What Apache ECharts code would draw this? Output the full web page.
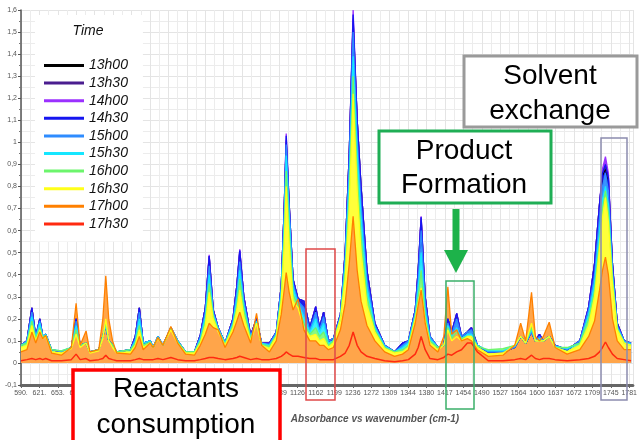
<!DOCTYPE html>
<html>
<head>
<meta charset="utf-8">
<script src="https://cdn.jsdelivr.net/npm/echarts@6.0.0/dist/echarts.min.js"></script>
<style>
html, body { margin: 0; padding: 0; background: #fff; }
#chart { width: 640px; height: 440px; }
</style>
</head>
<body>
<div id="chart"></div>
<script>
// x positions are measured in tick-label steps (0 = first label "590.")
const wavePos = [
  0, 0.32, 0.59, 0.80, 1.02, 1.18, 1.34, 1.66, 2.19, 2.73,
  2.99, 3.21, 3.53, 3.74, 4.22, 4.44, 4.60, 4.76, 4.97, 5.19,
  5.94, 6.20, 6.42, 6.63, 7.01, 7.17, 7.43, 7.70, 8.13, 8.50,
  8.93, 9.41, 9.73, 10.00, 10.21, 10.43, 10.70, 11.07, 11.50, 11.71,
  11.87, 12.09, 12.46, 12.78, 13.05, 13.48, 13.85, 14.12, 14.28, 14.39,
  14.55, 14.76, 15.03, 15.35, 15.67, 15.99, 16.20, 16.42, 16.68, 16.95,
  17.33, 17.59, 17.81, 18.02, 18.24, 18.45, 18.77, 19.20, 19.73, 20.27,
  20.70, 21.02, 21.39, 21.55, 21.71, 21.93, 22.19, 22.62, 22.94, 23.16,
  23.37, 23.64, 23.90, 24.22, 24.44, 24.76, 25.35, 26.15, 26.79, 27.11,
  27.38, 27.70, 27.91, 28.13, 28.34, 28.66, 28.98, 29.63, 30.32, 30.80,
  31.12, 31.39, 31.55, 31.71, 31.87, 32.09, 32.35, 32.73, 33.10
]

const tickLabels = ['590.', '621.', '653.', '688.', '724.', '761.', '797.', '834.', '870.', '907.',
  '943.', '980.', '1016', '1053', '1089', '1126', '1162', '1199', '1236', '1272', '1309', '1344',
  '1380', '1417', '1454', '1490', '1527', '1564', '1600', '1637', '1672', '1709', '1745', '1781']

const times = ['13h00', '13h30', '14h00', '14h30', '15h00', '15h30', '16h00', '16h30', '17h00', '17h30']

const t1300 = [
  .08, .10, .25, .12, .20, .12, .13, .06, .05, .07,
  .20, .08, .09, .05, .06, .12, .17, .10, .08, .05,
  .06, .12, .25, .09, .10, .07, .12, .08, .16, .10,
  .05, .05, .127, .25, .48, .24, .16, .09, .20, .35,
  .50, .30, .125, .20, .09, .09, .14, .35, .70, 1.00,
  .72, .38, .29, .28, .16, .25, .16, .23, .10, .11,
  .22, .50, .95, 1.55, 1.10, .80, .42, .18, .08, .05,
  .09, .10, .24, .42, .65, .30, .12, .07, .08, .20,
  .14, .22, .12, .14, .16, .08, .05, .05, .07, .12,
  .09, .14, .10, .13, .10, .12, .08, .06, .10, .25,
  .45, .72, .85, .88, .83, .45, .18, .10, .09
]
const t1330 = [
  .08, .10, .25, .12, .20, .12, .13, .06, .05, .07,
  .20, .08, .09, .05, .06, .12, .17, .10, .08, .05,
  .06, .12, .25, .09, .10, .07, .12, .08, .16, .10,
  .05, .05, .127, .25, .485, .24, .16, .09, .20, .35,
  .51, .30, .125, .20, .09, .09, .14, .35, .70, 1.01,
  .72, .38, .29, .28, .16, .255, .16, .23, .10, .11,
  .22, .50, .95, 1.56, 1.10, .80, .42, .18, .08, .05,
  .09, .10, .24, .42, .66, .30, .12, .07, .08, .20,
  .14, .225, .12, .14, .16, .08, .05, .05, .07, .12,
  .09, .14, .10, .13, .10, .12, .08, .06, .10, .255,
  .45, .72, .86, .89, .84, .45, .18, .10, .09
]
const t1400 = [
  .08, .10, .25, .12, .20, .12, .13, .06, .05, .07,
  .20, .08, .09, .05, .06, .12, .17, .10, .08, .05,
  .06, .12, .25, .09, .10, .07, .12, .08, .16, .10,
  .05, .05, .127, .25, .49, .24, .16, .09, .20, .35,
  .515, .30, .125, .20, .09, .09, .14, .35, .70, 1.04,
  .72, .38, .29, .28, .16, .255, .16, .23, .10, .11,
  .22, .50, .95, 1.60, 1.10, .80, .42, .18, .08, .05,
  .09, .10, .24, .42, .665, .30, .12, .07, .08, .20,
  .14, .225, .12, .14, .16, .08, .05, .05, .07, .12,
  .09, .14, .10, .13, .10, .12, .08, .06, .10, .255,
  .45, .72, .88, .935, .86, .45, .18, .10, .09
]
const t1430 = [
  .08, .10, .25, .12, .20, .12, .13, .06, .05, .07,
  .20, .08, .09, .05, .06, .12, .17, .10, .08, .05,
  .06, .12, .25, .09, .10, .07, .12, .08, .16, .10,
  .05, .05, .127, .25, .485, .24, .16, .09, .20, .35,
  .51, .30, .125, .20, .09, .09, .14, .35, .70, 1.03,
  .72, .38, .29, .28, .16, .255, .16, .23, .10, .11,
  .22, .50, .95, 1.58, 1.10, .80, .42, .18, .08, .05,
  .09, .10, .24, .42, .66, .30, .12, .07, .08, .20,
  .14, .225, .12, .14, .16, .08, .05, .05, .07, .12,
  .09, .14, .10, .13, .10, .12, .08, .06, .10, .255,
  .45, .72, .86, .90, .84, .45, .18, .10, .09
]
const t1500 = [
  .08, .10, .23, .12, .19, .12, .13, .06, .05, .07,
  .19, .08, .09, .05, .06, .12, .17, .10, .08, .05,
  .06, .11, .23, .09, .10, .07, .12, .08, .16, .10,
  .05, .05, .12, .23, .44, .23, .16, .09, .19, .32,
  .46, .28, .12, .19, .09, .085, .14, .34, .67, .99,
  .70, .36, .28, .25, .15, .23, .15, .21, .10, .11,
  .21, .48, .90, 1.50, 1.02, .72, .38, .17, .08, .05,
  .08, .10, .23, .38, .60, .27, .12, .07, .08, .18,
  .13, .20, .12, .14, .15, .08, .05, .05, .07, .12,
  .09, .14, .10, .12, .10, .12, .08, .06, .10, .24,
  .40, .66, .80, .86, .78, .42, .17, .10, .09
]
const t1530 = [
  .08, .095, .21, .115, .18, .12, .13, .06, .055, .07,
  .17, .08, .09, .05, .06, .12, .17, .10, .08, .05,
  .06, .10, .20, .09, .10, .07, .12, .08, .16, .10,
  .05, .05, .11, .21, .40, .22, .155, .09, .18, .29,
  .42, .26, .115, .19, .09, .08, .13, .32, .63, .94,
  .66, .34, .27, .21, .14, .20, .14, .18, .09, .10,
  .21, .45, .84, 1.39, .95, .66, .34, .16, .075, .05,
  .07, .09, .22, .34, .50, .24, .11, .07, .08, .17,
  .12, .16, .11, .13, .13, .08, .055, .055, .075, .12,
  .09, .15, .10, .11, .10, .12, .075, .065, .09, .22,
  .36, .60, .74, .80, .72, .40, .16, .095, .085
]
const t1600 = [
  .08, .09, .19, .11, .16, .115, .125, .06, .055, .07,
  .15, .08, .09, .05, .06, .12, .18, .10, .08, .05,
  .06, .09, .17, .08, .095, .07, .115, .08, .16, .095,
  .05, .05, .10, .19, .36, .21, .15, .085, .17, .26,
  .38, .24, .11, .18, .085, .075, .125, .30, .58, .87,
  .60, .31, .26, .18, .13, .16, .12, .14, .08, .10,
  .20, .42, .76, 1.30, .86, .58, .30, .15, .07, .05,
  .06, .08, .21, .30, .42, .21, .10, .07, .08, .16,
  .11, .14, .11, .12, .12, .075, .06, .065, .08, .12,
  .09, .16, .10, .10, .10, .12, .07, .07, .09, .20,
  .33, .55, .70, .78, .68, .38, .155, .09, .08
]
const t1630 = [
  .07, .08, .17, .10, .15, .11, .12, .05, .045, .065,
  .13, .07, .09, .045, .055, .11, .20, .10, .07, .045,
  .05, .08, .15, .07, .09, .07, .11, .08, .15, .09,
  .045, .045, .09, .17, .32, .20, .14, .08, .16, .24,
  .33, .21, .10, .18, .08, .065, .12, .28, .53, .80,
  .54, .28, .25, .16, .12, .13, .10, .11, .07, .09,
  .20, .38, .70, 1.22, .78, .50, .26, .14, .065, .045,
  .05, .07, .20, .27, .34, .19, .09, .06, .08, .15,
  .10, .12, .10, .12, .12, .07, .04, .045, .08, .12,
  .09, .18, .10, .10, .10, .12, .07, .05, .08, .17,
  .30, .52, .66, .75, .64, .36, .15, .09, .08
]
const t1700 = [
  .05, .06, .14, .09, .14, .11, .125, .045, .035, .07,
  .27, .08, .145, .05, .06, .20, .395, .20, .10, .045,
  .04, .07, .12, .06, .09, .07, .115, .08, .165, .09,
  .04, .035, .08, .13, .18, .16, .15, .07, .14, .19,
  .23, .17, .09, .225, .08, .05, .10, .22, .33, .41,
  .32, .24, .29, .15, .10, .10, .08, .08, .06, .07,
  .15, .27, .45, .665, .42, .28, .17, .10, .05, .03,
  .04, .06, .18, .26, .33, .18, .08, .05, .12, .345,
  .13, .15, .10, .11, .10, .06, .03, .035, .08, .18,
  .10, .32, .12, .10, .12, .185, .07, .04, .06, .12,
  .19, .33, .42, .48, .40, .20, .10, .06, .06
]
const t1730 = [
  .01, .015, .02, .015, .02, .015, .02, .01, .01, .015,
  .04, .015, .02, .01, .015, .02, .035, .02, .015, .01,
  .01, .015, .02, .015, .015, .015, .02, .015, .025, .015,
  .01, .01, .015, .02, .025, .025, .02, .015, .02, .025,
  .03, .025, .015, .02, .015, .015, .02, .03, .04, .05,
  .04, .03, .03, .025, .02, .02, .015, .015, .015, .015,
  .03, .045, .08, .14, .08, .05, .03, .02, .01, .005,
  .01, .015, .04, .07, .12, .06, .02, .015, .025, .04,
  .035, .05, .06, .09, .09, .05, .01, .01, .015, .02,
  .015, .035, .02, .015, .02, .02, .015, .01, .015, .02,
  .03, .05, .07, .095, .07, .04, .02, .015, .01
]

const seriesValues = [t1300, t1330, t1400, t1430, t1500, t1530, t1600, t1630, t1700, t1730]
const lineColors = ['#000000', '#4a1d8f', '#9b30ff', '#1515f0', '#2e8cff', '#15e6ff', '#6cf56c', '#ffff1a', '#ff8000', '#ff2a10']
const fillColors = ['#000000', '#4a1d8f', '#9b30ff', '#1a1aee', '#3a95ff', '#40ecff', '#86f886', '#ffff3a', '#ffa54a', null]

const font = '"Liberation Sans", Arial, sans-serif'

const chart = echarts.init(document.getElementById('chart'))

const series = times.map((name, i) => ({
  name,
  type: 'line',
  symbol: 'none',
  data: wavePos.map((x, k) => [x, seriesValues[i][k]]),
  itemStyle: { color: lineColors[i] },
  lineStyle: { color: lineColors[i], width: i === 9 ? 1.5 : 1.3 },
  areaStyle: fillColors[i] ? { color: fillColors[i], opacity: 1 } : undefined,
  silent: true
}))

const option = {
  animation: false,
  grid: { left: 21, right: 0, top: 10, bottom: 55 },
  xAxis: {
    type: 'value',
    min: 0,
    max: 33.2,
    interval: 1,
    axisLine: { show: true, onZero: false, lineStyle: { color: '#666', width: 3 } },
    axisTick: { show: true, length: 3, lineStyle: { color: '#666' } },
    axisLabel: {
      fontSize: 7,
      fontFamily: font,
      color: '#555',
      margin: 5,
      showMaxLabel: false,
      formatter: v => (Number.isInteger(v) && tickLabels[v]) ? tickLabels[v] : ''
    },
    splitLine: { show: true, lineStyle: { color: '#e4e4e4' } },
    minorTick: { show: false, splitNumber: 2 },
    minorSplitLine: { show: true, lineStyle: { color: '#ececec' } }
  },
  yAxis: {
    type: 'value',
    min: -0.1,
    max: 1.6,
    interval: 0.1,
    axisLine: { show: true, lineStyle: { color: '#555', width: 1.5 } },
    axisTick: { show: true, length: 3, lineStyle: { color: '#555' } },
    minorTick: { show: true, splitNumber: 2, length: 2, lineStyle: { color: '#777' } },
    axisLabel: {
      fontSize: 7,
      fontFamily: font,
      color: '#555',
      margin: 4,
      formatter: v => String(+v.toFixed(1)).replace('.', ',')
    },
    splitLine: { show: true, lineStyle: { color: '#e4e4e4' } },
    minorSplitLine: { show: true, lineStyle: { color: '#ececec' } }
  },
  legend: {
    orient: 'vertical',
    left: 35,
    top: 15,
    padding: [43, 15, 10, 9],
    backgroundColor: '#fff',
    icon: 'rect',
    itemWidth: 40,
    itemHeight: 3,
    itemGap: 2.6,
    selectedMode: false,
    textStyle: { fontSize: 14, fontStyle: 'italic', color: '#111', lineHeight: 15, fontFamily: font },
    data: times
  },
  graphic: [
    { type: 'text', z: 100, style: { text: 'Time', x: 88, y: 31, textAlign: 'center', textVerticalAlign: 'middle', align: 'center', verticalAlign: 'middle', fontSize: 14, fontStyle: 'italic', fontFamily: font, fill: '#111' } },
    // thin marker boxes
    { type: 'rect', z: 100, shape: { x: 306, y: 249, width: 29, height: 151 }, style: { fill: 'none', stroke: '#e04848', lineWidth: 1.5 } },
    { type: 'rect', z: 100, shape: { x: 446, y: 281, width: 28, height: 128 }, style: { fill: 'none', stroke: '#3bb06a', lineWidth: 1.5 } },
    { type: 'rect', z: 100, shape: { x: 601, y: 138, width: 26, height: 262 }, style: { fill: 'none', stroke: '#8c8cae', lineWidth: 1.5 } },
    // solvent exchange
    { type: 'rect', z: 100, shape: { x: 464, y: 56, width: 173, height: 71 }, style: { fill: '#fff', stroke: '#9a9a9a', lineWidth: 3 } },
    { type: 'text', z: 101, style: { text: 'Solvent', x: 550, y: 76, textAlign: 'center', textVerticalAlign: 'middle', align: 'center', verticalAlign: 'middle', fontSize: 28, fontFamily: font, fill: '#000' } },
    { type: 'text', z: 101, style: { text: 'exchange', x: 550, y: 111, textAlign: 'center', textVerticalAlign: 'middle', align: 'center', verticalAlign: 'middle', fontSize: 28, fontFamily: font, fill: '#000' } },
    // product formation
    { type: 'rect', z: 100, shape: { x: 379, y: 131, width: 172, height: 72 }, style: { fill: '#fff', stroke: '#1fae55', lineWidth: 3 } },
    { type: 'text', z: 101, style: { text: 'Product', x: 464, y: 151, textAlign: 'center', textVerticalAlign: 'middle', align: 'center', verticalAlign: 'middle', fontSize: 28, fontFamily: font, fill: '#000' } },
    { type: 'text', z: 101, style: { text: 'Formation', x: 464, y: 185, textAlign: 'center', textVerticalAlign: 'middle', align: 'center', verticalAlign: 'middle', fontSize: 28, fontFamily: font, fill: '#000' } },
    { type: 'rect', z: 100, shape: { x: 452.5, y: 209, width: 7, height: 43 }, style: { fill: '#1db24a' } },
    { type: 'polygon', z: 100, shape: { points: [[444, 250], [468, 250], [456, 273]] }, style: { fill: '#1db24a' } },
    // reactants consumption
    { type: 'rect', z: 100, shape: { x: 73, y: 370, width: 207, height: 80 }, style: { fill: '#fff', stroke: '#ff0000', lineWidth: 3.5 } },
    { type: 'text', z: 101, style: { text: 'Reactants', x: 176, y: 389, textAlign: 'center', textVerticalAlign: 'middle', align: 'center', verticalAlign: 'middle', fontSize: 28, fontFamily: font, fill: '#000' } },
    { type: 'text', z: 101, style: { text: 'consumption', x: 176, y: 425, textAlign: 'center', textVerticalAlign: 'middle', align: 'center', verticalAlign: 'middle', fontSize: 28, fontFamily: font, fill: '#000' } },
    // axis title
    { type: 'text', z: 100, style: { text: 'Absorbance vs wavenumber (cm-1)', x: 375, y: 419, textAlign: 'center', textVerticalAlign: 'middle', align: 'center', verticalAlign: 'middle', fontSize: 10, fontStyle: 'italic', fontWeight: 'bold', fontFamily: font, fill: '#555' } }
  ],
  series
}

chart.setOption(option)

window.addEventListener('resize', () => {
  chart.resize()
})
</script>
</body>
</html>
